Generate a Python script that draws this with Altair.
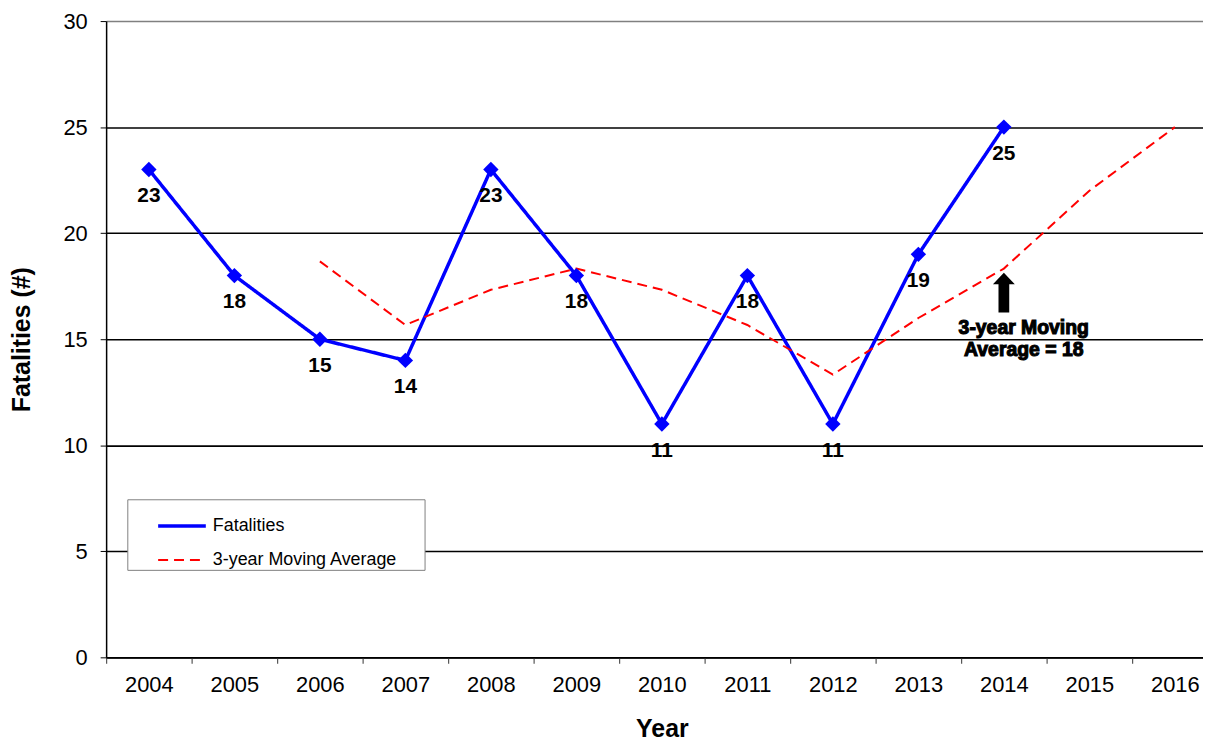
import altair as alt
import pandas as pd

FONT = "Liberation Sans"

years = [str(y) for y in range(2004, 2017)]
fatal_years = [str(y) for y in range(2004, 2015)]
fatalities = [23, 18, 15, 14, 23, 18, 11, 18, 11, 19, 25]
ma_years = [str(y) for y in range(2006, 2017)]
moving_avg = [18.67, 15.67, 17.33, 18.33, 17.33, 15.67, 13.33, 16.0, 18.33, 22.0, 25.0]

series_names = ["Fatalities", "3-year Moving Average"]
series_colors = ["#0000FF", "#FF0000"]

annot_year = ["2014"]
arrow_value = [17.2]
annot_value = [15.95]
annot_text = ["3-year Moving\nAverage = 18"]

rows = [{"Year": y, "Value": v, "Series": series_names[0]} for y, v in zip(fatal_years, fatalities)]
rows += [{"Year": y, "Value": v, "Series": series_names[1]} for y, v in zip(ma_years, moving_avg)]
long_df = pd.DataFrame(rows)
fatal_df = pd.DataFrame({"Year": fatal_years, "Value": fatalities})
annot_df = pd.DataFrame({"Year": annot_year, "Arrow": arrow_value, "TextY": annot_value, "Text": annot_text})

x_scale = alt.Scale(type="band", domain=years, range=[0, 1118], paddingInner=0, paddingOuter=0)
y_scale = alt.Scale(domain=[0, 30], nice=False)

x_enc = alt.X("Year:O", scale=x_scale, sort=years,
              axis=alt.Axis(title="Year", tickBand="extent", labelAngle=0, grid=False,
                            tickSize=6, tickColor="#555555", tickWidth=1.2,
                            domainColor="black", domainWidth=1.5,
                            labelFontSize=22, labelPadding=11, labelColor="black",
                            titleFontSize=25, titleFontWeight="bold", titlePadding=22,
                            titleColor="black"))
y_enc = alt.Y("Value:Q", scale=y_scale,
              axis=alt.Axis(title="Fatalities (#)", values=[0, 5, 10, 15, 20, 25, 30],
                            grid=True,
                            gridColor={"condition": {"test": "datum.value === 30", "value": "#808080"}, "value": "black"},
                            gridWidth=1.6, tickSize=6, tickColor="black", domainColor="black",
                            domainWidth=1.5, labelFontSize=22, labelPadding=13,
                            labelColor="black", titleFontSize=25, titleFontWeight="bold",
                            titlePadding=29, titleColor="black"))

lines = alt.Chart(long_df).mark_line().encode(
    x=x_enc,
    y=y_enc,
    color=alt.Color("Series:N", scale=alt.Scale(domain=series_names, range=series_colors),
                    legend=alt.Legend(title=None, orient="none", legendX=21.3, legendY=481,
                                      symbolType="stroke", symbolSize=2300,
                                      labelFontSize=18, labelFont=FONT, labelColor="black",
                                      labelLimit=400, titlePadding=0,
                                      labelExpr="datum.label + '\u2800\u2800'",
                                      padding=1, symbolOffset=28, rowPadding=0,
                                      strokeColor="#808080", fillColor="white",
                                      labelOffset=5)),
    strokeDash=alt.StrokeDash("Series:N", scale=alt.Scale(domain=series_names, range=[[1, 0], [10, 6]])),
    strokeWidth=alt.StrokeWidth("Series:N", scale=alt.Scale(domain=series_names, range=[3.5, 2])),
)

points = alt.Chart(fatal_df).mark_point(shape="diamond", filled=True, size=240,
                                        color="#0000FF", opacity=1).encode(
    x=alt.X("Year:O", sort=years), y="Value:Q")

labels = alt.Chart(fatal_df).mark_text(dy=27, fontSize=21, fontWeight="bold",
                                       font=FONT, color="black").encode(
    x=alt.X("Year:O", sort=years), y="Value:Q", text="Value:Q")

arrow_path = "M0,-1L0.55,-0.42L0.27,-0.42L0.27,1L-0.27,1L-0.27,-0.42L-0.55,-0.42Z"
arrow = alt.Chart(annot_df).mark_point(shape=arrow_path, filled=True, size=1600,
                                       color="black", opacity=1).encode(
    x=alt.X("Year:O", sort=years), y=alt.Y("Arrow:Q"))

annot = alt.Chart(annot_df).mark_text(dx=20, fontSize=19.5, fontWeight="bold", font=FONT,
                                      color="black", baseline="top", lineBreak="\n",
                                      lineHeight=22, stroke="black", strokeWidth=1.1).encode(
    x=alt.X("Year:O", sort=years), y=alt.Y("TextY:Q"), text="Text:N")

chart = alt.layer(lines, points, labels, arrow, annot).properties(
    width=1103.3, height=640,
    autosize=alt.AutoSizeParams(type="none"),
    padding={"left": 98.7, "top": 11, "right": 0, "bottom": 82},
).configure(font=FONT).configure_view(stroke=None).configure_axis(
    labelFont=FONT, titleFont=FONT)

chart.save("out.html", embed_options={"renderer": "svg", "actions": False})
